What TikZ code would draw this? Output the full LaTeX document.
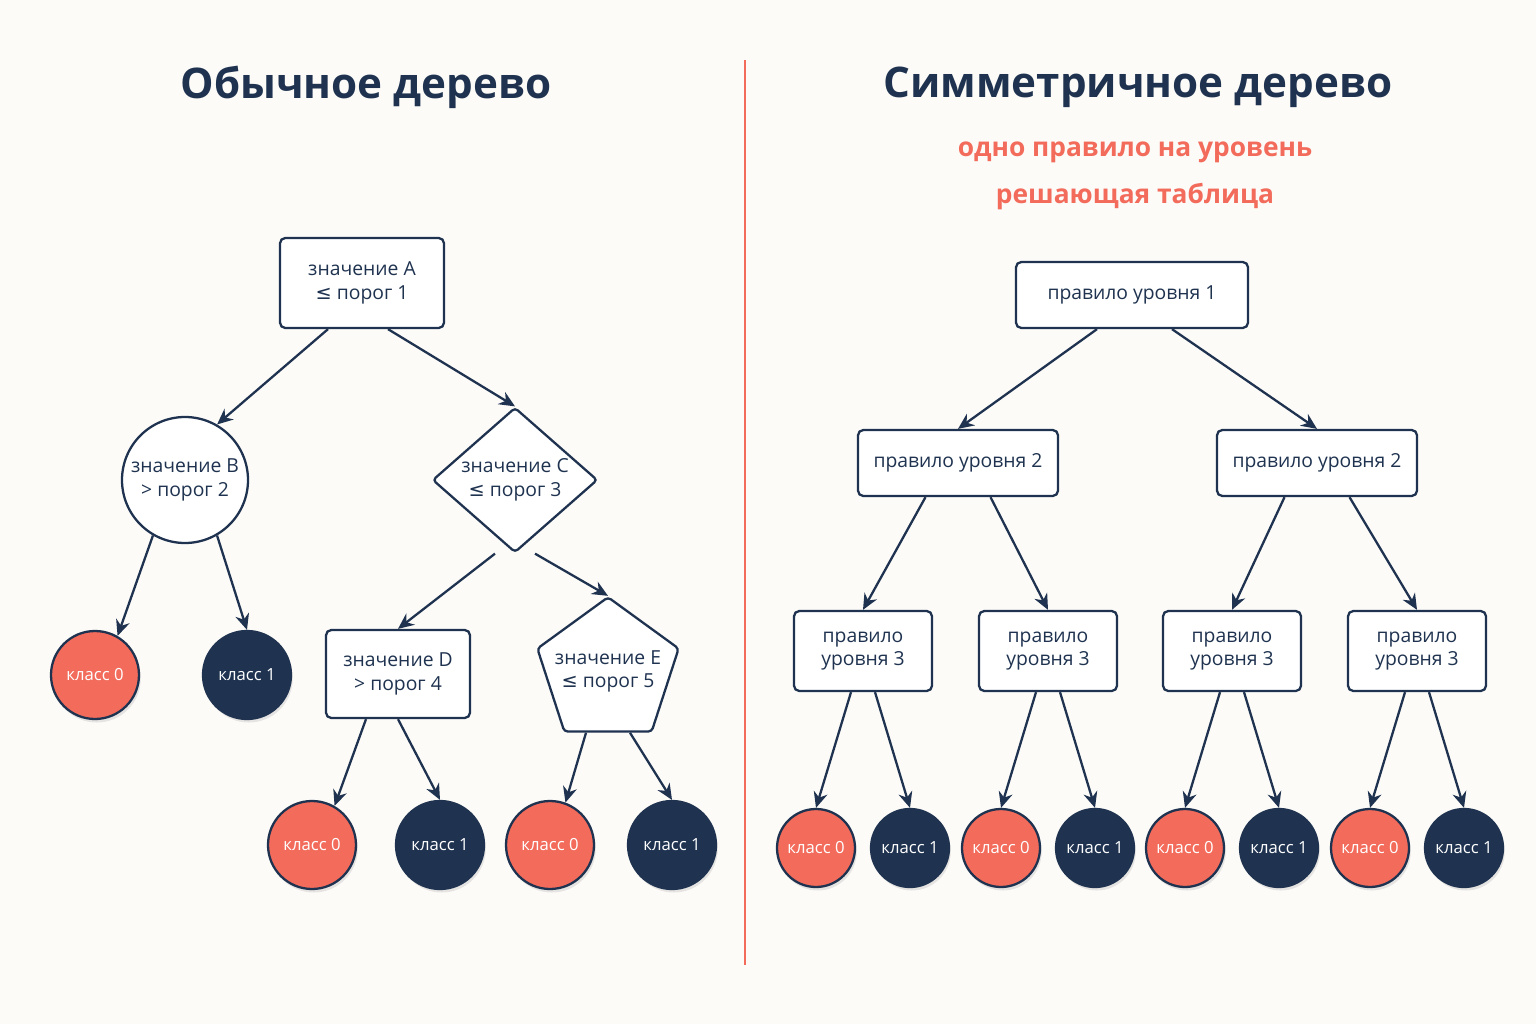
\documentclass[tikz,border=0pt]{standalone}
\usepackage{fontspec}
\setmainfont{Open Sans}
\newfontfamily\symfont{DejaVu Sans}
\newcommand{\leqs}{{\symfont ≤}}
\usetikzlibrary{shapes.geometric,arrows.meta,shadows}
\definecolor{navy}{HTML}{1F3350}
\definecolor{coral}{HTML}{F26B5B}
\definecolor{paper}{HTML}{FCFBF8}
\tikzset{
    box/.style={rectangle, rounded corners=3pt, draw=navy, line width=1.3pt, fill=white, text=navy, font=\fontsize{11}{13.5}\selectfont, align=center},
    leaf/.style={circle, draw=navy, line width=1.3pt, minimum size=2.5cm, text=white, font=\fontsize{9.5}{12}\selectfont, drop shadow={opacity=.18, shadow xshift=1pt, shadow yshift=-2pt}},
    red/.style={leaf, fill=coral},
    dark/.style={leaf, fill=navy},
    arr/.style={-{Stealth[length=9pt,width=8pt]}, draw=navy, line width=1.3pt}
}
\begin{document}
\begin{tikzpicture}
    \fill[paper] (0,0) rectangle (30.72,20.48);
    \useasboundingbox (0,0) rectangle (30.72,20.48);

    % left tree
    \node (tl) [text=navy, font=\fontsize{24}{28}\selectfont\bfseries] at (7.32,18.74) {Обычное дерево};
    \node (a) [box, minimum width=3.28cm, minimum height=1.8cm] at (7.24,14.82) {значение A\\\leqs{} порог 1};
    \node (b) [box, circle, minimum size=2.52cm, inner sep=0pt] at (3.7,10.88) {значение B\\> порог 2};
    \node (c) [box, diamond, minimum width=3.3cm, minimum height=2.9cm, inner sep=-2pt, rounded corners=2pt] at (10.3,10.88) {значение C\\\leqs{} порог 3};
    \node (d) [box, minimum width=2.88cm, minimum height=1.76cm] at (7.96,7) {значение D\\> порог 4};
    \node (e) [box, regular polygon, regular polygon sides=5, minimum size=2.85cm, inner sep=-6pt, rounded corners=2pt] at (12.16,7.05) {значение E\\\leqs{} порог 5};
    \node (b0) [red, minimum size=1.76cm] at (1.9,6.98) {класс 0};
    \node (b1) [dark, minimum size=1.76cm] at (4.94,6.98) {класс 1};
    \node (d0) [red, minimum size=1.76cm] at (6.24,3.58) {класс 0};
    \node (d1) [dark, minimum size=1.76cm] at (8.8,3.58) {класс 1};
    \node (e0) [red, minimum size=1.76cm] at (11,3.58) {класс 0};
    \node (e1) [dark, minimum size=1.76cm] at (13.44,3.58) {класс 1};

    \draw[coral, line width=1.3pt] (14.9,19.28) -- (14.9,1.18);

    % right tree
    \node (tr) [text=navy, font=\fontsize{24}{28}\selectfont\bfseries] at (22.76,18.74) {Симметричное дерево};
    \node (s1) [text=coral, font=\fontsize{15}{18}\selectfont\bfseries] at (22.7,17.44) {одно правило на уровень};
    \node (s2) [text=coral, font=\fontsize{15}{18}\selectfont\bfseries] at (22.7,16.54) {решающая таблица};
    \node (r) [box, minimum width=4.64cm, minimum height=1.32cm] at (22.64,14.58) {правило уровня 1};
    \node (p) [box, minimum width=4cm, minimum height=1.32cm] at (19.16,11.22) {правило уровня 2};
    \node (q) [box, minimum width=4cm, minimum height=1.32cm] at (26.34,11.22) {правило уровня 2};
    \foreach \n/\x in {p1/17.26, p2/20.96, q1/24.64, q2/28.34} {
        \node (\n) [box, minimum width=2.76cm, minimum height=1.6cm] at (\x,7.46) {правило\\уровня 3};
        \node (\n0) [red, minimum size=1.56cm] at (\x-0.94,3.52) {класс 0};
        \node (\n1) [dark, minimum size=1.56cm] at (\x+0.94,3.52) {класс 1};
        \draw[arr] ([xshift=-0.24cm]\n.south) -- (\n0.north);
        \draw[arr] ([xshift=0.24cm]\n.south) -- (\n1.north);
    }

    \draw[arr] ([xshift=-0.68cm]a.south) -- (b.60);
    \draw[arr] ([xshift=0.52cm]a.south) -- (c.north);
    \draw[arr] (b.-120) -- (b0.60);
    \draw[arr] (b.-60) -- (b1.90);
    \draw[arr] ([xshift=-0.4cm]c.south) -- (d.north);
    \draw[arr] ([xshift=0.4cm]c.south) -- (e.corner 1);
    \draw[arr] ([xshift=-0.64cm]d.south) -- (d0.60);
    \draw[arr] ([xshift=0.0cm]d.south) -- (d1.90);
    \draw[arr] ([xshift=-0.44cm]e.side 3) -- (e0.70);
    \draw[arr] ([xshift=0.44cm]e.side 3) -- (e1.90);
    \draw[arr] ([xshift=-0.7cm]r.south) -- (p.north);
    \draw[arr] ([xshift=0.8cm]r.south) -- (q.north);
    \draw[arr] ([xshift=-0.65cm]p.south) -- (p1.north);
    \draw[arr] ([xshift=0.65cm]p.south) -- (p2.north);
    \draw[arr] ([xshift=-0.65cm]q.south) -- (q1.north);
    \draw[arr] ([xshift=0.65cm]q.south) -- (q2.north);
\end{tikzpicture}
\end{document}
